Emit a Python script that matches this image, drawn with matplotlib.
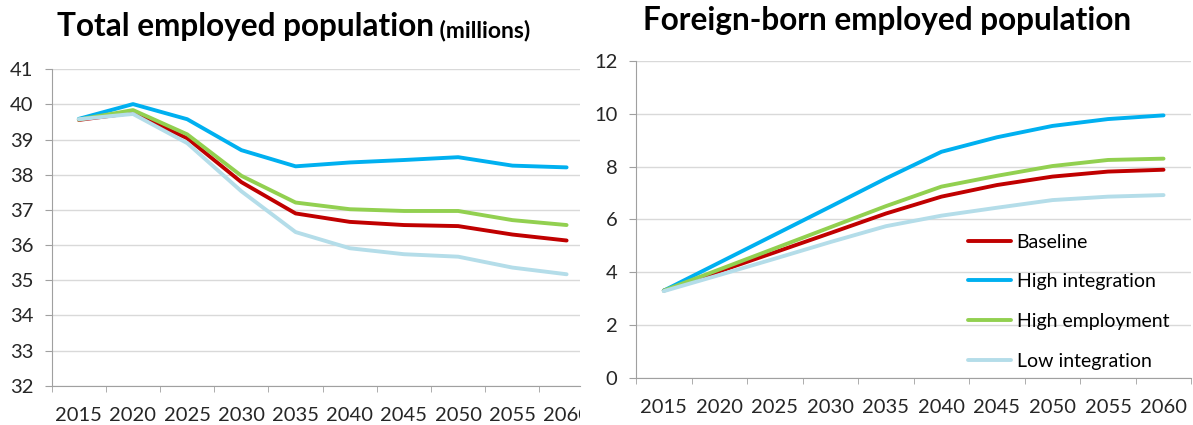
import matplotlib.pyplot as plt
from matplotlib.transforms import Bbox, TransformedBbox

plt.rcParams['font.family'] = ['Lato', 'DejaVu Sans']

years = ['2015', '2020', '2025', '2030', '2035', '2040', '2045', '2050', '2055', '2060']
scenarios = ['Baseline', 'High integration', 'High employment', 'Low integration']
colors = ['#C00000', '#00B0F0', '#92D050', '#B4DDE9']

# total employed population (millions)
total_baseline = [39.56, 39.76, 39.04, 37.79, 36.90, 36.66, 36.57, 36.54, 36.30, 36.13]
total_high_int = [39.59, 40.01, 39.58, 38.70, 38.24, 38.35, 38.42, 38.50, 38.26, 38.21]
total_high_emp = [39.57, 39.84, 39.15, 37.97, 37.21, 37.02, 36.97, 36.97, 36.71, 36.57]
total_low_int = [39.58, 39.73, 38.90, 37.53, 36.37, 35.91, 35.74, 35.67, 35.36, 35.17]

# foreign-born employed population
fb_baseline = [3.30, 4.03, 4.75, 5.48, 6.22, 6.86, 7.30, 7.62, 7.81, 7.88]
fb_high_int = [3.30, 4.36, 5.42, 6.48, 7.55, 8.56, 9.11, 9.54, 9.80, 9.94]
fb_high_emp = [3.30, 4.10, 4.90, 5.70, 6.50, 7.24, 7.65, 8.02, 8.25, 8.30]
fb_low_int = [3.28, 3.89, 4.51, 5.14, 5.74, 6.14, 6.44, 6.73, 6.86, 6.92]

total = [total_baseline, total_high_int, total_high_emp, total_low_int]
foreign = [fb_baseline, fb_high_int, fb_high_emp, fb_low_int]

W, H = 1193, 425
fig = plt.figure(figsize=(W / 100, H / 100), dpi=100)
# left panel is cut off on the right (as in the source image), so the last
# category only partly shows
ax1 = fig.add_axes([51.7 / W, 1 - 385.7 / H, (580 - 51.7) / W, (385.7 - 69.3) / H])
ax2 = fig.add_axes([636 / W, 1 - 377.7 / H, (1191.3 - 636) / W, (377.7 - 61) / H])

GREY = '#a0a0a0'


def style_axis(ax, ymin, ymax, step, xmax):
    ax.set_yticks(range(ymin, ymax + 1, step))
    ax.set_xticks(range(len(years)))
    ax.set_xticklabels(years)
    ax.set_xticks([i - 0.5 for i in range(len(years) + 1)], minor=True)
    # limits after the ticks, set_xticks would widen them otherwise
    ax.set_xlim(-0.5, xmax)
    ax.set_ylim(ymin, ymax)
    ax.tick_params(axis='x', which='major', length=0, pad=15, labelsize=14.5, colors='#262626')
    ax.tick_params(axis='x', which='minor', length=4.5, color=GREY)
    ax.tick_params(axis='y', length=4.8, color=GREY, labelsize=14.5, colors='#262626', pad=8.5)
    ax.grid(axis='y', color='#d9d9d9', linewidth=1)
    ax.set_axisbelow(True)
    for s in ['top', 'right']:
        ax.spines[s].set_visible(False)
    ax.spines['left'].set_color(GREY)
    ax.spines['bottom'].set_color(GREY)


for ax, data in [(ax1, total), (ax2, foreign)]:
    for name, vals, c in zip(scenarios, data, colors):
        ax.plot(range(len(years)), vals, color=c, linewidth=2.8, label=name,
                solid_capstyle='round', clip_on=False)

style_axis(ax1, 32, 41, 1, -0.5 + (580 - 51.7) / 54.2)
style_axis(ax2, 0, 12, 2, 9.5)

# cut the last year label at the panel edge
last = ax1.get_xticklabels()[-1]
last.set_clip_box(TransformedBbox(Bbox([[0, 0], [580 / W, 1]]), fig.transFigure))
last.set_clip_on(True)

fig.legend(*ax2.get_legend_handles_labels(), loc='upper left',
           bbox_to_anchor=(968 / W, 1 - 233.5 / H), frameon=False, fontsize=14,
           handlelength=2.2, handletextpad=0.3, labelspacing=1.17,
           borderpad=0, borderaxespad=0)

t1 = fig.text(57 / W, 1 - 36 / H, 'Total employed population', fontsize=22.7,
              fontweight='bold', va='baseline')
ax1.annotate(' (millions)', xy=(1, 0), xycoords=t1, va='bottom', fontsize=16.5,
             fontweight='bold', annotation_clip=False)
fig.text(643 / W, 1 - 30 / H, 'Foreign-born employed population', fontsize=22.7,
         fontweight='bold', va='baseline')

fig.savefig('out.png', dpi=100)
